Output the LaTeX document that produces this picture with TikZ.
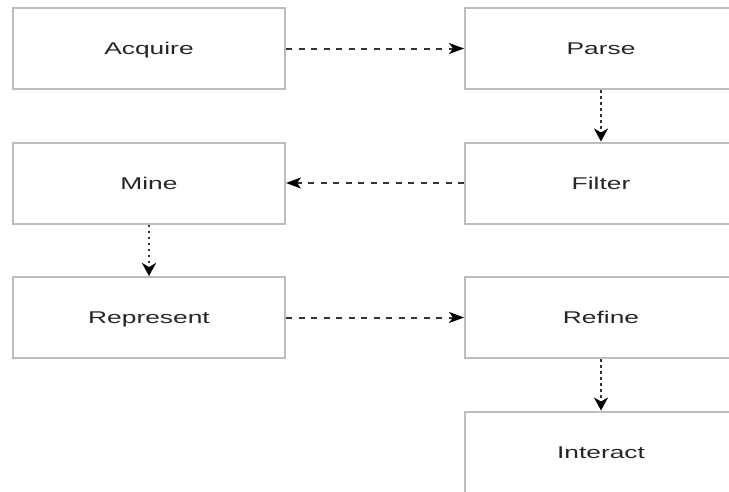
\documentclass[tikz,border=0pt]{standalone}
\usepackage{fontspec}
\setmainfont{Liberation Sans}[FakeStretch=1.55]
\usepackage{tikz}
\usetikzlibrary{arrows.meta, positioning}

\definecolor{boxline}{HTML}{BDBDBD}
\definecolor{flowline}{HTML}{333333}

\begin{document}
\begin{tikzpicture}[x=1pt, y=-1pt,
    stage/.style={rectangle, draw=boxline, line width=2pt, fill=white,
        minimum width=272pt, minimum height=81pt, inner sep=0pt,
        text height=12pt, text depth=0pt,
        text=black!85, font=\fontsize{17}{20}\selectfont},
    dashflow/.style={flowline, line width=2pt, dash pattern=on 6pt off 6.5pt,
        -{Stealth[length=15pt, width=11pt, inset=4pt, black]}},
    dotflow/.style={flowline, line width=2.4pt, dash pattern=on 2.5pt off 3.5pt,
        -{Stealth[length=13pt, width=14pt, inset=4pt, black]}}]
    \useasboundingbox (0,0) rectangle (729,491);
    \clip (0,0) rectangle (729,491);

    % left column
    \node[stage] (acquire)   at (149,48.5)  {Acquire};
    \node[stage] (mine)      at (149,183)   {Mine};
    \node[stage] (represent) at (149,317.5) {Represent};

    % right column (cut at the page edge)
    \node[stage] (parse)    at (601,48.5)  {Parse};
    \node[stage] (filter)   at (601,183)   {Filter};
    \node[stage] (refine)   at (601,317.5) {Refine};
    \node[stage] (interact) at (601,452)   {Interact};

    % flow between stages
    \draw[dashflow] (acquire.east) -- (parse.west);
    \draw[dotflow] (parse.south) -- (filter.north);
    \draw[dashflow] (filter.west) -- (mine.east);
    \draw[dotflow] (mine.south) -- (represent.north);
    \draw[dashflow] (represent.east) -- (refine.west);
    \draw[dotflow] (refine.south) -- (interact.north);
\end{tikzpicture}
\end{document}
